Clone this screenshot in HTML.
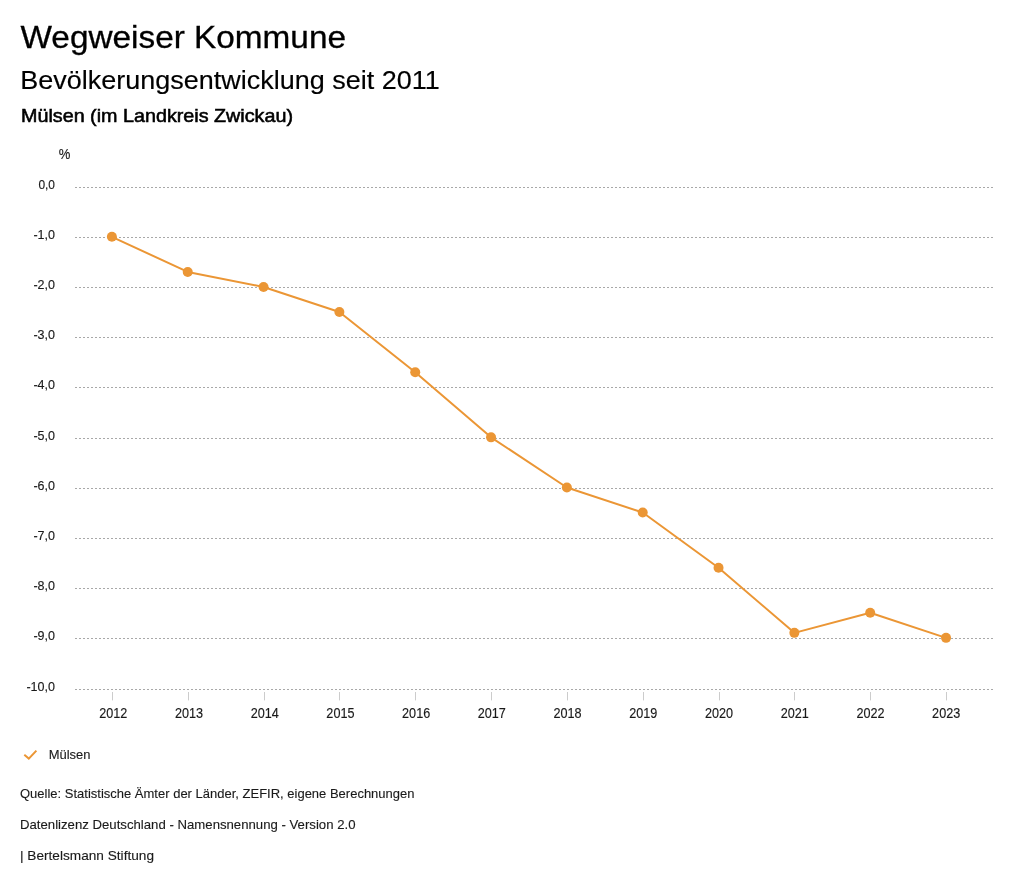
<!DOCTYPE html>
<html><head><meta charset="utf-8"><title>Wegweiser Kommune</title><style>
html,body{margin:0;padding:0;background:#fff;width:1024px;height:888px;overflow:hidden}
svg{display:block;will-change:transform}
text{font-family:"Liberation Sans",sans-serif}
.h1{font-size:30.5px;fill:#000;stroke:#000;stroke-width:0.3px}
.h2{font-size:25.2px;fill:#000;stroke:#000;stroke-width:0.15px}
.h3{font-size:18.2px;fill:#000;stroke:#000;stroke-width:0.55px}
.ax{font-size:13.2px;fill:#1a1a1a;stroke:#1a1a1a;stroke-width:0.15px}
.yr{font-size:14.1px}
.ft{font-size:12.9px;fill:#1a1a1a;stroke:#1a1a1a;stroke-width:0.12px}
</style></head><body>
<svg width="1024" height="888" viewBox="0 0 1024 888">
<rect width="1024" height="888" fill="#fff"/>
<text x="20.5" y="47.6" class="h1" textLength="325.5" lengthAdjust="spacingAndGlyphs">Wegweiser Kommune</text>
<text x="20.2" y="88.8" class="h2" textLength="419.5" lengthAdjust="spacingAndGlyphs">Bevölkerungsentwicklung seit 2011</text>
<text x="21" y="122" class="h3" textLength="272" lengthAdjust="spacingAndGlyphs">Mülsen (im Landkreis Zwickau)</text>
<text x="58.8" y="159" class="ax" style="font-size:14.2px" textLength="11.6" lengthAdjust="spacingAndGlyphs">%</text>
<line x1="75" x2="994" y1="187.5" y2="187.5" stroke="#a8a8a8" stroke-width="1" stroke-dasharray="2,2"/>
<text x="55.0" y="188.9" text-anchor="end" class="ax" textLength="16.6" lengthAdjust="spacingAndGlyphs">0,0</text>
<line x1="75" x2="994" y1="237.5" y2="237.5" stroke="#a8a8a8" stroke-width="1" stroke-dasharray="2,2"/>
<text x="55.0" y="238.9" text-anchor="end" class="ax" textLength="21.6" lengthAdjust="spacingAndGlyphs">-1,0</text>
<line x1="75" x2="994" y1="287.5" y2="287.5" stroke="#a8a8a8" stroke-width="1" stroke-dasharray="2,2"/>
<text x="55.0" y="288.9" text-anchor="end" class="ax" textLength="21.6" lengthAdjust="spacingAndGlyphs">-2,0</text>
<line x1="75" x2="994" y1="337.5" y2="337.5" stroke="#a8a8a8" stroke-width="1" stroke-dasharray="2,2"/>
<text x="55.0" y="338.9" text-anchor="end" class="ax" textLength="21.6" lengthAdjust="spacingAndGlyphs">-3,0</text>
<line x1="75" x2="994" y1="387.5" y2="387.5" stroke="#a8a8a8" stroke-width="1" stroke-dasharray="2,2"/>
<text x="55.0" y="388.9" text-anchor="end" class="ax" textLength="21.6" lengthAdjust="spacingAndGlyphs">-4,0</text>
<line x1="75" x2="994" y1="438.5" y2="438.5" stroke="#a8a8a8" stroke-width="1" stroke-dasharray="2,2"/>
<text x="55.0" y="439.9" text-anchor="end" class="ax" textLength="21.6" lengthAdjust="spacingAndGlyphs">-5,0</text>
<line x1="75" x2="994" y1="488.5" y2="488.5" stroke="#a8a8a8" stroke-width="1" stroke-dasharray="2,2"/>
<text x="55.0" y="489.9" text-anchor="end" class="ax" textLength="21.6" lengthAdjust="spacingAndGlyphs">-6,0</text>
<line x1="75" x2="994" y1="538.5" y2="538.5" stroke="#a8a8a8" stroke-width="1" stroke-dasharray="2,2"/>
<text x="55.0" y="539.9" text-anchor="end" class="ax" textLength="21.6" lengthAdjust="spacingAndGlyphs">-7,0</text>
<line x1="75" x2="994" y1="588.5" y2="588.5" stroke="#a8a8a8" stroke-width="1" stroke-dasharray="2,2"/>
<text x="55.0" y="589.9" text-anchor="end" class="ax" textLength="21.6" lengthAdjust="spacingAndGlyphs">-8,0</text>
<line x1="75" x2="994" y1="638.5" y2="638.5" stroke="#a8a8a8" stroke-width="1" stroke-dasharray="2,2"/>
<text x="55.0" y="639.9" text-anchor="end" class="ax" textLength="21.6" lengthAdjust="spacingAndGlyphs">-9,0</text>
<line x1="75" x2="994" y1="689.5" y2="689.5" stroke="#a8a8a8" stroke-width="1" stroke-dasharray="2,2"/>
<text x="55.0" y="690.9" text-anchor="end" class="ax" textLength="28.6" lengthAdjust="spacingAndGlyphs">-10,0</text>
<line x1="112.5" x2="112.5" y1="692" y2="700.4" stroke="#cccccc" stroke-width="1"/>
<text x="113.25" y="718" text-anchor="middle" class="ax yr" textLength="28.1" lengthAdjust="spacingAndGlyphs">2012</text>
<line x1="188.5" x2="188.5" y1="692" y2="700.4" stroke="#cccccc" stroke-width="1"/>
<text x="188.97" y="718" text-anchor="middle" class="ax yr" textLength="28.1" lengthAdjust="spacingAndGlyphs">2013</text>
<line x1="264.5" x2="264.5" y1="692" y2="700.4" stroke="#cccccc" stroke-width="1"/>
<text x="264.69" y="718" text-anchor="middle" class="ax yr" textLength="28.1" lengthAdjust="spacingAndGlyphs">2014</text>
<line x1="339.5" x2="339.5" y1="692" y2="700.4" stroke="#cccccc" stroke-width="1"/>
<text x="340.41" y="718" text-anchor="middle" class="ax yr" textLength="28.1" lengthAdjust="spacingAndGlyphs">2015</text>
<line x1="415.5" x2="415.5" y1="692" y2="700.4" stroke="#cccccc" stroke-width="1"/>
<text x="416.13" y="718" text-anchor="middle" class="ax yr" textLength="28.1" lengthAdjust="spacingAndGlyphs">2016</text>
<line x1="491.5" x2="491.5" y1="692" y2="700.4" stroke="#cccccc" stroke-width="1"/>
<text x="491.85" y="718" text-anchor="middle" class="ax yr" textLength="28.1" lengthAdjust="spacingAndGlyphs">2017</text>
<line x1="567.5" x2="567.5" y1="692" y2="700.4" stroke="#cccccc" stroke-width="1"/>
<text x="567.57" y="718" text-anchor="middle" class="ax yr" textLength="28.1" lengthAdjust="spacingAndGlyphs">2018</text>
<line x1="643.5" x2="643.5" y1="692" y2="700.4" stroke="#cccccc" stroke-width="1"/>
<text x="643.29" y="718" text-anchor="middle" class="ax yr" textLength="28.1" lengthAdjust="spacingAndGlyphs">2019</text>
<line x1="719.5" x2="719.5" y1="692" y2="700.4" stroke="#cccccc" stroke-width="1"/>
<text x="719.01" y="718" text-anchor="middle" class="ax yr" textLength="28.1" lengthAdjust="spacingAndGlyphs">2020</text>
<line x1="794.5" x2="794.5" y1="692" y2="700.4" stroke="#cccccc" stroke-width="1"/>
<text x="794.73" y="718" text-anchor="middle" class="ax yr" textLength="28.1" lengthAdjust="spacingAndGlyphs">2021</text>
<line x1="870.5" x2="870.5" y1="692" y2="700.4" stroke="#cccccc" stroke-width="1"/>
<text x="870.45" y="718" text-anchor="middle" class="ax yr" textLength="28.1" lengthAdjust="spacingAndGlyphs">2022</text>
<line x1="946.5" x2="946.5" y1="692" y2="700.4" stroke="#cccccc" stroke-width="1"/>
<text x="946.17" y="718" text-anchor="middle" class="ax yr" textLength="28.1" lengthAdjust="spacingAndGlyphs">2023</text>
<polyline points="111.90,236.83 187.73,271.92 263.56,286.96 339.39,312.02 415.22,372.18 491.05,437.35 566.88,487.48 642.71,512.55 718.54,567.69 794.37,632.86 870.20,612.81 946.03,637.87" fill="none" stroke="#eb9635" stroke-width="2" stroke-linejoin="round"/>
<circle cx="111.90" cy="236.83" r="5" fill="#eb9635"/>
<circle cx="187.73" cy="271.92" r="5" fill="#eb9635"/>
<circle cx="263.56" cy="286.96" r="5" fill="#eb9635"/>
<circle cx="339.39" cy="312.02" r="5" fill="#eb9635"/>
<circle cx="415.22" cy="372.18" r="5" fill="#eb9635"/>
<circle cx="491.05" cy="437.35" r="5" fill="#eb9635"/>
<circle cx="566.88" cy="487.48" r="5" fill="#eb9635"/>
<circle cx="642.71" cy="512.55" r="5" fill="#eb9635"/>
<circle cx="718.54" cy="567.69" r="5" fill="#eb9635"/>
<circle cx="794.37" cy="632.86" r="5" fill="#eb9635"/>
<circle cx="870.20" cy="612.81" r="5" fill="#eb9635"/>
<circle cx="946.03" cy="637.87" r="5" fill="#eb9635"/>
<polyline points="24.3,754.8 28.8,758.6 36.4,750.6" fill="none" stroke="#eb9635" stroke-width="2"/>
<text x="48.7" y="759" class="ft" textLength="41.8" lengthAdjust="spacingAndGlyphs">Mülsen</text>
<text x="20" y="798.3" class="ft" textLength="394.5" lengthAdjust="spacingAndGlyphs">Quelle: Statistische Ämter der Länder, ZEFIR, eigene Berechnungen</text>
<text x="20" y="829.1" class="ft" textLength="335.5" lengthAdjust="spacingAndGlyphs">Datenlizenz Deutschland - Namensnennung - Version 2.0</text>
<text x="20" y="859.6" class="ft" textLength="134" lengthAdjust="spacingAndGlyphs">| Bertelsmann Stiftung</text>
</svg>
</body></html>
